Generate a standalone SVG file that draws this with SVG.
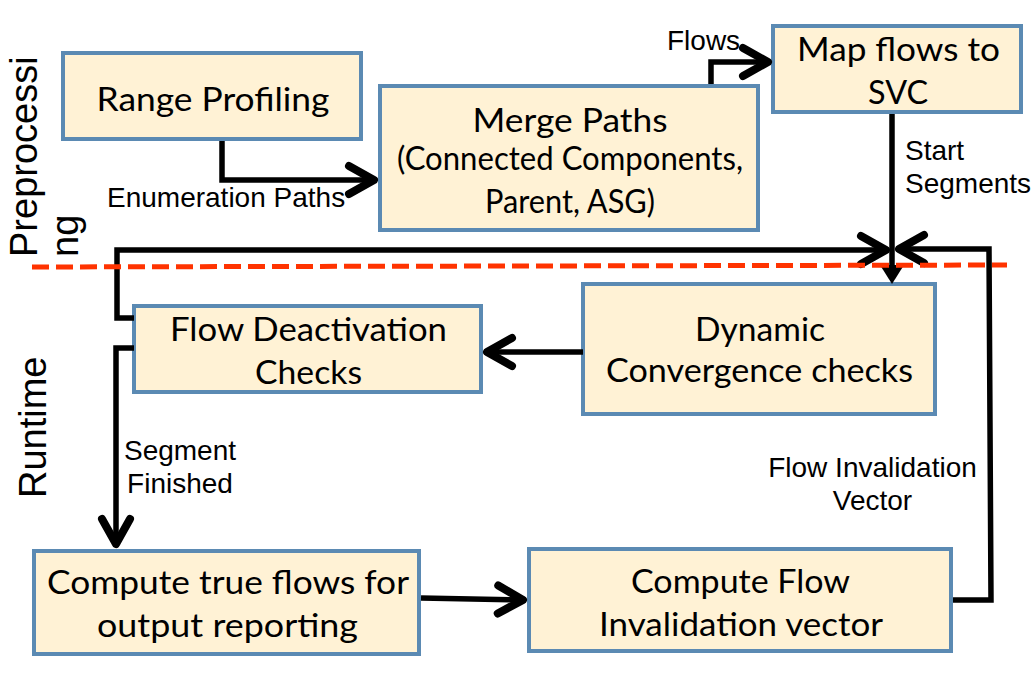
<svg xmlns="http://www.w3.org/2000/svg" width="1034" height="676" viewBox="0 0 1034 676">
<style>
.box{fill:#fff2d5;stroke:#5b8ab3;stroke-width:4}
.bt{font-family:Lato,"Open Sans",sans-serif;font-size:32px;fill:#000;text-anchor:middle}
.lb{font-family:"Liberation Sans",Arial,sans-serif;font-size:28px;fill:#000}
.side{font-family:"Liberation Sans",Arial,sans-serif;font-size:38px;fill:#000}
.cn{fill:none;stroke:#000;stroke-width:5.5;stroke-linejoin:miter}
.arr{marker-end:url(#ah)}
</style>
<defs>
<marker id="ah" viewBox="-34 -20 40 40" refX="0" refY="0" markerWidth="40" markerHeight="40" markerUnits="userSpaceOnUse" orient="auto" overflow="visible">
<path d="M-28,-14 L-3,0 L-28,14" fill="none" stroke="#000" stroke-width="8" stroke-linecap="round" stroke-linejoin="round"/>
</marker>
<marker id="tri" viewBox="-24 -16 28 32" refX="-6" refY="0" markerWidth="28" markerHeight="32" markerUnits="userSpaceOnUse" orient="auto" overflow="visible">
<path d="M-19,-12 L0,0 L-19,12 Z" fill="#000"/>
</marker>
</defs>

<rect width="1034" height="676" fill="#fff"/>

<g id="side-labels">
<text class="side" transform="translate(37,257) rotate(-90)">Preprocessi</text>
<text class="side" transform="translate(78,257) rotate(-90)">ng</text>
<text class="side" font-size="37.5" transform="translate(46,498) rotate(-90)">Runtime</text>
</g>

<g id="node-range-profiling">
<rect class="box" x="63" y="53" width="298" height="86"/>
<text class="bt" x="213" y="111" textLength="233" lengthAdjust="spacingAndGlyphs">Range Profiling</text>
</g>

<g id="node-merge-paths">
<rect class="box" x="380" y="86" width="378" height="144"/>
<text class="bt" x="570" y="132" font-size="33" textLength="195" lengthAdjust="spacingAndGlyphs">Merge Paths</text>
<text class="bt" x="570" y="170" font-size="29" textLength="346" lengthAdjust="spacingAndGlyphs">(Connected Components,</text>
<text class="bt" x="570" y="213" font-size="29" textLength="170" lengthAdjust="spacingAndGlyphs">Parent, ASG)</text>
</g>

<g id="node-map-flows">
<rect class="box" x="773" y="26" width="248" height="86"/>
<text class="bt" x="898.5" y="61" textLength="203" lengthAdjust="spacingAndGlyphs">Map flows to</text>
<text class="bt" x="898" y="104" textLength="60" lengthAdjust="spacingAndGlyphs">SVC</text>
</g>

<g id="node-dynamic-convergence">
<rect class="box" x="583" y="284" width="352" height="130"/>
<text class="bt" x="760" y="341" textLength="130" lengthAdjust="spacingAndGlyphs">Dynamic</text>
<text class="bt" x="759.5" y="382" textLength="307" lengthAdjust="spacingAndGlyphs">Convergence checks</text>
</g>

<g id="node-flow-deactivation">
<rect class="box" x="134" y="306" width="347" height="86"/>
<text class="bt" x="308.5" y="341" textLength="277" lengthAdjust="spacingAndGlyphs">Flow Deactivation</text>
<text class="bt" x="308.5" y="384" textLength="107" lengthAdjust="spacingAndGlyphs">Checks</text>
</g>

<g id="node-compute-true-flows">
<rect class="box" x="34" y="551" width="385" height="103"/>
<text class="bt" x="228" y="594" textLength="362" lengthAdjust="spacingAndGlyphs">Compute true flows for</text>
<text class="bt" x="227.5" y="637" textLength="261" lengthAdjust="spacingAndGlyphs">output reporting</text>
</g>

<g id="node-compute-invalidation">
<rect class="box" x="529" y="549" width="422" height="102"/>
<text class="bt" x="740.5" y="593" textLength="219" lengthAdjust="spacingAndGlyphs">Compute Flow</text>
<text class="bt" x="741" y="636" textLength="284" lengthAdjust="spacingAndGlyphs">Invalidation vector</text>
</g>

<g id="connectors">
<path class="cn arr" d="M222,141 V180 H377"/>
<path class="cn arr" d="M711,84 V62 H771"/>
<path class="cn" d="M892,114 V278" marker-end="url(#tri)"/>
<path class="cn arr" d="M134,318 H117 V250 H889"/>
<path class="cn arr" d="M953,600 H991 L989,249 H896"/>
<path class="cn arr" d="M583,352 H484"/>
<path class="cn arr" d="M134,348 H116 V547"/>
<path class="cn arr" d="M421,598 L526,600"/>
<text class="lb" x="107" y="207">Enumeration Paths</text>
<text class="lb" x="667" y="50">Flows</text>
<text class="lb" x="905" y="160">Start</text>
<text class="lb" x="905" y="193">Segments</text>
<text class="lb" x="180" y="460" text-anchor="middle">Segment</text>
<text class="lb" x="180" y="493" text-anchor="middle">Finished</text>
<text class="lb" x="872.5" y="477" text-anchor="middle">Flow Invalidation</text>
<text class="lb" x="872.5" y="510" text-anchor="middle">Vector</text>
</g>

<g id="phase-divider">
<path d="M32,267 L1007,265" fill="none" stroke="#ff3300" stroke-width="5" stroke-dasharray="17 7"/>
</g>
</svg>
